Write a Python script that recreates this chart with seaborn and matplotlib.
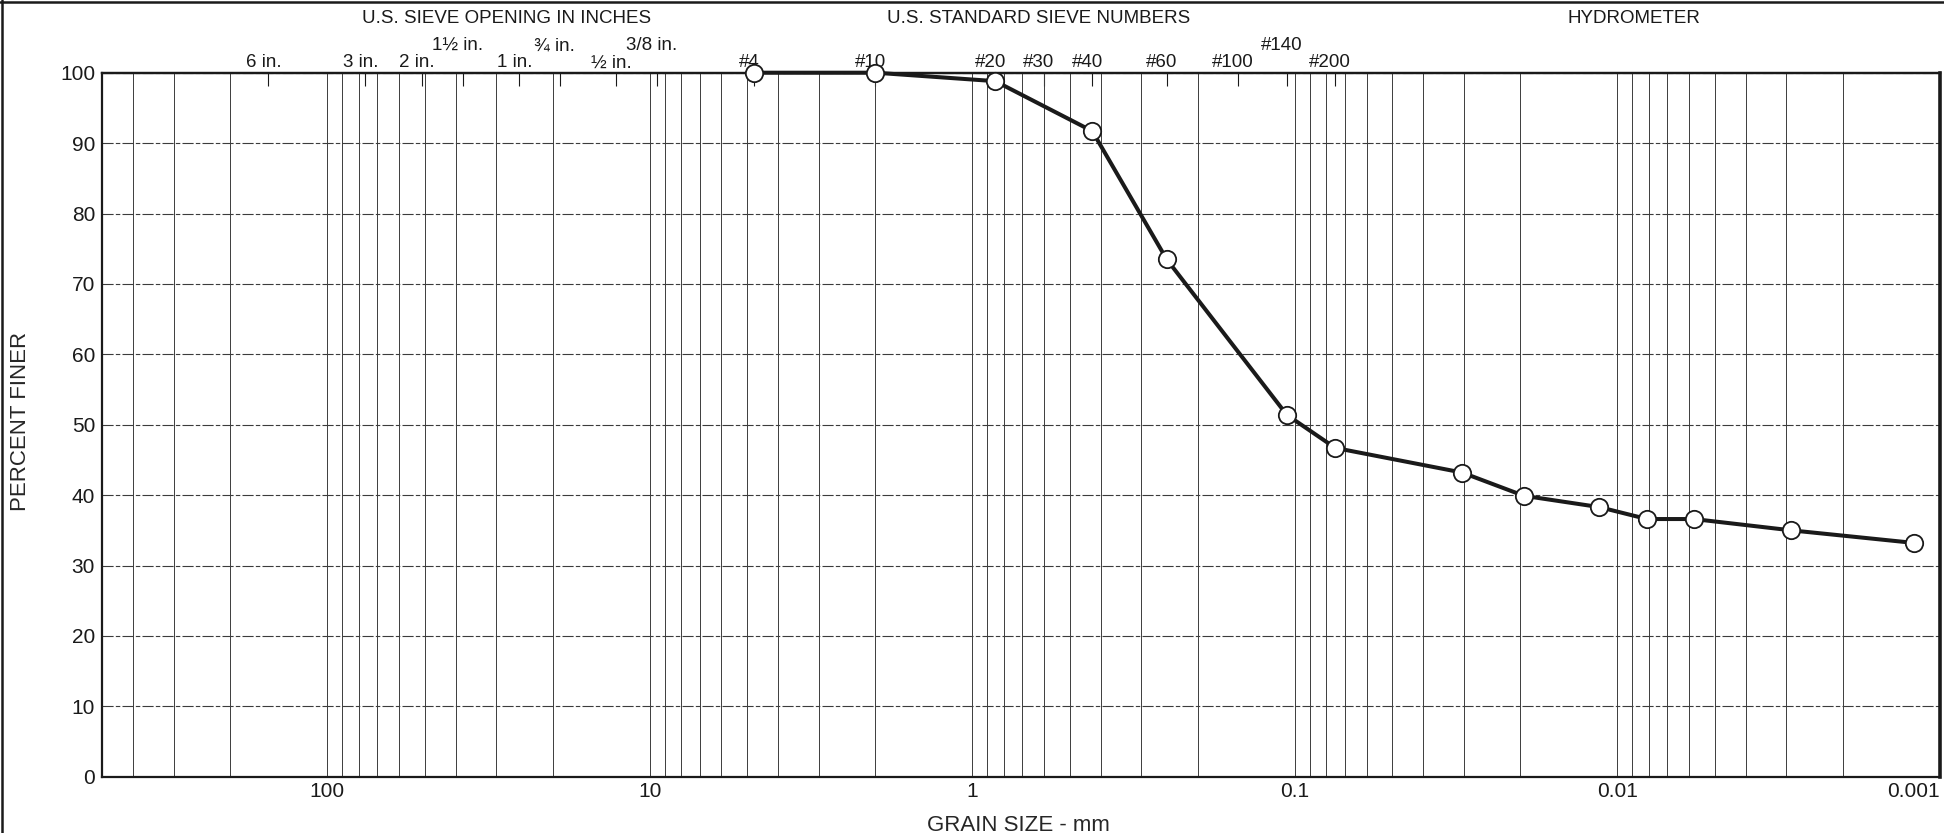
import matplotlib
matplotlib.use("Agg")
import numpy as np
import pandas as pd
import matplotlib.pyplot as plt
import matplotlib.transforms as mtransforms
import seaborn as sns
from matplotlib.lines import Line2D
from matplotlib.ticker import LogLocator, NullFormatter, NullLocator

# ====================== DATA ======================

grain_mm  = [4.75, 2.0, 0.85, 0.425, 0.25, 0.106, 0.075,
             0.0303, 0.0195, 0.0114, 0.0081, 0.0058, 0.0029, 0.0012]
pct_finer = [100, 100, 98.8, 91.7, 73.5, 51.4, 46.7,
             43.2, 39.9, 38.3, 36.6, 36.6, 35.0, 33.2]

x_ticks       = [100, 10, 1, 0.1, 0.01, 0.001]
x_tick_labels = ["100", "10", "1", "0.1", "0.01", "0.001"]
y_ticks       = list(range(0, 101, 10))

sieve_mm     = [152.4, 76.2, 50.8, 38.1, 25.4, 19.05, 12.7, 9.525,
                4.75, 2.0, 0.85, 0.6, 0.425, 0.25, 0.15, 0.106, 0.075]
sieve_labels = ["6 in.", "3 in.", "2 in.", "1½ in.", "1 in.", "¾ in.", "½ in.", "3/8 in.",
                "#4", "#10", "#20", "#30", "#40", "#60", "#100", "#140", "#200"]
raised_labels = ["1½ in.", "¾ in.", "3/8 in.", "#140"]   # second row of labels

headers = ["U.S. SIEVE OPENING IN INCHES", "U.S. STANDARD SIEVE NUMBERS", "HYDROMETER"]

# ====================== STYLE ======================

INK  = "#1a1a1a"
GRID = "#3c3c3c"

sns.set_style("white")
plt.rcParams["font.family"] = ["Liberation Sans", "DejaVu Sans"]
plt.rcParams["text.color"] = INK
plt.rcParams["xtick.color"] = INK
plt.rcParams["ytick.color"] = INK

W, H = 1944, 833
fig = plt.figure(figsize=(W / 100, H / 100), dpi=100)
ax = fig.add_axes([102 / W, 1 - 776.7 / H, 1838 / W, 704 / H])
ax.set_xscale("log")

df = pd.DataFrame({"grain": grain_mm, "finer": pct_finer})
sns.lineplot(
    data=df, x="grain", y="finer", ax=ax,
    color=INK, linewidth=2.9,
    marker="o", markersize=12.5,
    markerfacecolor="white", markeredgecolor=INK, markeredgewidth=1.3,
    clip_on=False, zorder=5
)

# ---- axes ----
ax.set_xlim(500, 0.001)
ax.set_ylim(0, 100)
ax.set_xticks(x_ticks, x_tick_labels)
ax.xaxis.set_minor_locator(LogLocator(base=10, subs=np.arange(2, 10), numticks=50))
ax.xaxis.set_minor_formatter(NullFormatter())
ax.set_yticks(y_ticks)
ax.tick_params(axis="both", which="both", length=0, labelsize=15)
ax.tick_params(axis="y", pad=5)
ax.tick_params(axis="x", pad=4)
# last label sits flush against the right border, like the sheet
ax.get_xticklabels()[-1].set_ha("right")

ax.set_axisbelow(True)
ax.grid(True, axis="x", which="both", color=GRID, linewidth=0.7)
ax.grid(True, axis="y", which="major", color=GRID, linewidth=0.8,
        linestyle=(0, (10, 2, 4, 2)))

for sp in ax.spines.values():
    sp.set_color(INK)
    sp.set_linewidth(1.6)
ax.spines["right"].set_linewidth(2.6)

# ---- sieve ticks along the top ----
sec = ax.secondary_xaxis("top")
sec.set_xticks(sieve_mm)
sec.xaxis.set_minor_locator(NullLocator())
sec.xaxis.set_major_formatter(NullFormatter())
sec.tick_params(direction="in", length=9, width=0.8, colors=INK)
sec.spines["top"].set_linewidth(1.6)
sec.spines["top"].set_color(INK)

trans = mtransforms.blended_transform_factory(ax.transData, ax.transAxes)
trans = mtransforms.offset_copy(trans, fig=fig, x=-5, y=0, units="dots")
for s, lab in zip(sieve_mm, sieve_labels):
    yy = 1.032 if lab in raised_labels else 1.0074
    ax.text(s, yy, lab, transform=trans, ha="center", va="baseline",
            fontsize=13.5, clip_on=False)

for xpos, txt in zip([0.2203, 0.5098, 0.8335], headers):
    ax.text(xpos, 1.077, txt, transform=ax.transAxes, ha="center", va="center",
            fontsize=13.5)

# ---- axis titles ----
ax.set_ylabel("PERCENT FINER", fontsize=16)
ax.yaxis.set_label_coords(-0.0388, 0.5045)
ax.set_xlabel("GRAIN SIZE - mm", fontsize=16)
ax.xaxis.label.set_va("baseline")
ax.xaxis.set_label_coords(0.4984, -0.0765)

# ---- page border from the scanned sheet ----
fig.add_artist(Line2D([2 / W, 2 / W], [0, 1], transform=fig.transFigure, color=INK, lw=1.8))
fig.add_artist(Line2D([0, 1], [1 - 1.5 / H, 1 - 1.5 / H], transform=fig.transFigure, color=INK, lw=1.8))

fig.savefig("out.png", dpi=100)
